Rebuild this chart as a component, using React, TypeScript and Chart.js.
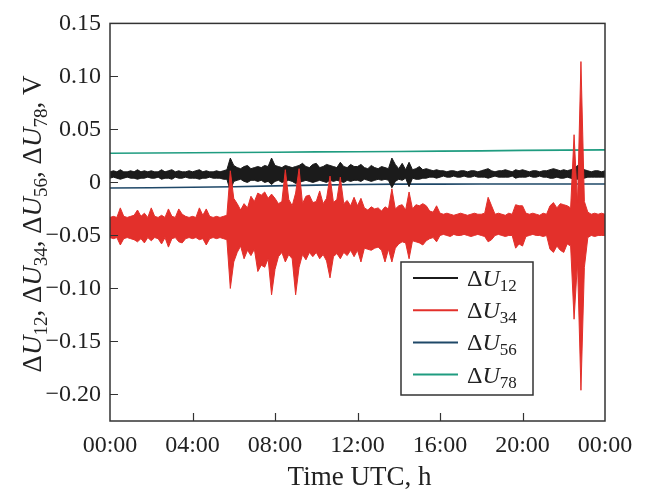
import React, { useEffect, useRef } from "react";
import { Chart, registerables } from "chart.js";

Chart.register(...registerables);

// ---------- data ----------
// envelope samples every 10 minutes, 00:00 .. 24:00 (145 samples)
const SAMPLE_STEP_H = 1 / 6;

const X_TICKS = [0, 4, 8, 12, 16, 20, 24];
const X_TICK_LABELS = ["00:00", "04:00", "08:00", "12:00", "16:00", "20:00", "00:00"];
const Y_TICKS = [0.15, 0.1, 0.05, 0, -0.05, -0.1, -0.15, -0.2];
const Y_TICK_LABELS = ["0.15", "0.10", "0.05", "0", "\u22120.05", "\u22120.10", "\u22120.15", "\u22120.20"];

const SERIES_SUBSCRIPTS = ["12", "34", "56", "78"];
const SERIES_COLORS = ["#1b1b1b", "#e3302b", "#1f4868", "#1f9c80"];

// ΔU12 upper / lower envelope (V)
const DU12_HI = [
  0.010, 0.011, 0.010, 0.012, 0.010, 0.010, 0.011, 0.010, 0.012, 0.010, 0.011, 0.010,
  0.011, 0.010, 0.010, 0.012, 0.010, 0.011, 0.012, 0.010, 0.011, 0.010, 0.010, 0.011,
  0.010, 0.011, 0.012, 0.010, 0.011, 0.010, 0.010, 0.011, 0.010, 0.011, 0.012, 0.023,
  0.016, 0.014, 0.013, 0.015, 0.016, 0.013, 0.014, 0.015, 0.014, 0.016, 0.015, 0.023,
  0.016, 0.015, 0.014, 0.016, 0.015, 0.014, 0.015, 0.016, 0.018, 0.015, 0.014, 0.017,
  0.018, 0.014, 0.015, 0.017, 0.016, 0.015, 0.014, 0.019, 0.015, 0.014, 0.017, 0.015,
  0.015, 0.017, 0.014, 0.013, 0.016, 0.014, 0.013, 0.015, 0.014, 0.013, 0.023, 0.017,
  0.013, 0.018, 0.012, 0.019, 0.012, 0.013, 0.015, 0.012, 0.013, 0.012, 0.011, 0.012,
  0.011, 0.011, 0.010, 0.011, 0.011, 0.010, 0.011, 0.011, 0.010, 0.011, 0.011, 0.010,
  0.011, 0.012, 0.013, 0.011, 0.010, 0.011, 0.011, 0.012, 0.011, 0.010, 0.012, 0.011,
  0.012, 0.011, 0.010, 0.011, 0.011, 0.010, 0.011, 0.011, 0.012, 0.013, 0.012, 0.011,
  0.012, 0.011, 0.012, 0.013, 0.016, 0.016, 0.012, 0.011, 0.010, 0.011, 0.011, 0.010,
  0.011,
];
const DU12_LO = [
  0.004, 0.005, 0.004, 0.003, 0.004, 0.005, 0.004, 0.004, 0.003, 0.004, 0.004, 0.005,
  0.004, 0.004, 0.005, 0.003, 0.004, 0.004, 0.003, 0.005, 0.004, 0.004, 0.005, 0.004,
  0.004, 0.004, 0.003, 0.004, 0.004, 0.005, 0.004, 0.004, 0.004, 0.003, 0.003, -0.008,
  0.001, 0.002, 0.003, 0.001, 0.000, 0.002, 0.002, 0.001, 0.002, 0.000, 0.001, -0.002,
  0.001, 0.002, 0.000, 0.001, 0.002, 0.001, -0.001, 0.000, 0.001, 0.002, 0.001, 0.000,
  0.001, 0.002, 0.001, 0.000, 0.002, 0.001, 0.002, 0.001, 0.000, 0.002, 0.001, 0.002,
  0.002, 0.001, 0.003, 0.002, 0.001, 0.002, 0.003, 0.002, 0.003, 0.002, -0.005, 0.001,
  0.003, 0.002, 0.004, -0.004, 0.004, 0.003, 0.003, 0.004, 0.004, 0.005, 0.005, 0.004,
  0.005, 0.006, 0.005, 0.005, 0.006, 0.005, 0.005, 0.006, 0.005, 0.005, 0.006, 0.005,
  0.005, 0.005, 0.004, 0.005, 0.006, 0.005, 0.005, 0.005, 0.005, 0.006, 0.004, 0.005,
  0.005, 0.005, 0.006, 0.005, 0.005, 0.006, 0.005, 0.005, 0.004, 0.004, 0.005, 0.004,
  0.004, 0.005, 0.004, 0.003, 0.003, 0.003, 0.004, 0.005, 0.005, 0.005, 0.005, 0.005,
  0.005,
];

// ΔU34 upper / lower envelope (V)
const DU34_HI = [
  -0.033, -0.032, -0.033, -0.024, -0.032, -0.033, -0.032, -0.031, -0.026, -0.032, -0.029, -0.033,
  -0.024, -0.032, -0.033, -0.031, -0.033, -0.025, -0.032, -0.033, -0.025, -0.030, -0.032, -0.033,
  -0.032, -0.033, -0.024, -0.031, -0.025, -0.032, -0.033, -0.032, -0.033, -0.032, -0.031, 0.011,
  -0.015, -0.020, -0.026, -0.020, -0.024, -0.013, -0.018, -0.010, -0.012, -0.009, -0.015, -0.011,
  -0.015, -0.020, -0.018, 0.012, -0.016, -0.022, -0.010, 0.013, -0.020, -0.013, -0.012, -0.019,
  -0.018, -0.008, -0.020, -0.015, 0.006, -0.019, -0.016, 0.005, -0.020, -0.017, -0.022, -0.014,
  -0.022, -0.015, -0.024, -0.026, -0.023, -0.025, -0.024, -0.027, -0.023, -0.025, -0.006, -0.025,
  -0.022, -0.021, -0.026, -0.009, -0.025, -0.021, -0.022, -0.020, -0.022, -0.027, -0.028, -0.022,
  -0.029, -0.030, -0.029, -0.030, -0.031, -0.030, -0.029, -0.030, -0.031, -0.030, -0.029, -0.030,
  -0.030, -0.029, -0.014, -0.022, -0.030, -0.029, -0.030, -0.031, -0.029, -0.030, -0.021, -0.022,
  -0.022, -0.029, -0.030, -0.029, -0.030, -0.031, -0.029, -0.030, -0.022, -0.019, -0.024, -0.020,
  -0.021, -0.022, -0.024, 0.045, -0.020, 0.114, -0.018, -0.028, -0.030, -0.029, -0.030, -0.029,
  -0.030,
];
const DU34_LO = [
  -0.052, -0.053, -0.052, -0.059, -0.053, -0.052, -0.053, -0.054, -0.056, -0.053, -0.057, -0.052,
  -0.055, -0.052, -0.053, -0.058, -0.052, -0.061, -0.053, -0.052, -0.056, -0.057, -0.053, -0.052,
  -0.053, -0.052, -0.054, -0.053, -0.059, -0.053, -0.052, -0.053, -0.052, -0.053, -0.054, -0.100,
  -0.075, -0.066, -0.060, -0.072, -0.064, -0.069, -0.063, -0.084, -0.078, -0.080, -0.072, -0.106,
  -0.082, -0.070, -0.066, -0.075, -0.068, -0.072, -0.106, -0.080, -0.068, -0.073, -0.066, -0.070,
  -0.066, -0.072, -0.068, -0.074, -0.090, -0.070, -0.067, -0.072, -0.066, -0.069, -0.064, -0.070,
  -0.064, -0.075, -0.062, -0.063, -0.064, -0.062, -0.061, -0.064, -0.075, -0.063, -0.075, -0.062,
  -0.058, -0.056, -0.057, -0.072, -0.055, -0.056, -0.057, -0.059, -0.055, -0.053, -0.052, -0.056,
  -0.050, -0.049, -0.050, -0.051, -0.049, -0.050, -0.050, -0.049, -0.050, -0.051, -0.050, -0.049,
  -0.050, -0.051, -0.056, -0.054, -0.050, -0.049, -0.050, -0.051, -0.050, -0.050, -0.062, -0.058,
  -0.060, -0.051, -0.050, -0.049, -0.050, -0.050, -0.051, -0.050, -0.063, -0.066, -0.060, -0.064,
  -0.066, -0.058, -0.060, -0.129, -0.075, -0.196, -0.080, -0.052, -0.050, -0.051, -0.050, -0.050,
  -0.050,
];

// ΔU56 and ΔU78, smooth drifts read every 2 hours
const LINE_TIMES = [0, 2, 4, 6, 8, 10, 12, 14, 16, 18, 20, 22, 24];
const DU56 = [-0.0053, -0.005, -0.0045, -0.004, -0.0032, -0.0025, -0.002, -0.0016, -0.0016, -0.0015, -0.0015, -0.0015, -0.0015];
const DU78 = [0.0275, 0.0278, 0.028, 0.0283, 0.0285, 0.0288, 0.029, 0.0292, 0.0295, 0.0298, 0.0302, 0.0305, 0.0307];

// ---------- helpers ----------
const SERIF = "'Liberation Serif', 'Times New Roman', serif";

const toPoints = (vals: number[]) => vals.map((v, k) => ({ x: k * SAMPLE_STEP_H, y: v }));
const toLinePoints = (vals: number[]) => vals.map((v, k) => ({ x: LINE_TIMES[k], y: v }));

type Seg = { t: string; kind: "main" | "ital" | "sub" };

const fontFor = (k: Seg["kind"], main: number, sub: number) =>
  k === "ital" ? `italic ${main}px ${SERIF}` : k === "sub" ? `${sub}px ${SERIF}` : `${main}px ${SERIF}`;

function drawSegs(ctx: CanvasRenderingContext2D, segs: Seg[], x0: number, y0: number, main: number, sub: number, subDrop: number) {
  let x = x0;
  for (const s of segs) {
    ctx.font = fontFor(s.kind, main, sub);
    ctx.fillText(s.t, x, y0 + (s.kind === "sub" ? subDrop : 0));
    x += ctx.measureText(s.t).width;
  }
  return x - x0;
}
function measureSegs(ctx: CanvasRenderingContext2D, segs: Seg[], main: number, sub: number) {
  let w = 0;
  for (const s of segs) {
    ctx.font = fontFor(s.kind, main, sub);
    w += ctx.measureText(s.t).width;
  }
  return w;
}

const decorPlugin = {
  id: "decor",
  afterDraw(chart: any) {
    const ctx: CanvasRenderingContext2D = chart.ctx;
    const { left, right, top, bottom } = chart.chartArea;
    const xs = chart.scales.x;
    const ys = chart.scales.y;
    ctx.save();
    // frame
    ctx.strokeStyle = "#333";
    ctx.lineWidth = 1.5;
    ctx.strokeRect(left, top, right - left, bottom - top);
    // inward ticks
    ctx.lineWidth = 1.2;
    ctx.beginPath();
    for (const t of X_TICKS) {
      if (t === X_TICKS[0] || t === X_TICKS[X_TICKS.length - 1]) continue;
      const px = Math.round(xs.getPixelForValue(t)) + 0.5;
      ctx.moveTo(px, bottom);
      ctx.lineTo(px, bottom - 8);
    }
    for (const v of Y_TICKS) {
      const py = Math.round(ys.getPixelForValue(v)) + 0.5;
      if (Math.abs(py - top) < 2) continue;
      ctx.moveTo(left, py);
      ctx.lineTo(left + 8, py);
    }
    ctx.stroke();

    ctx.fillStyle = "#222";
    ctx.textBaseline = "alphabetic";

    // x title
    ctx.font = `27px ${SERIF}`;
    ctx.textAlign = "center";
    ctx.fillText("Time UTC, h", (left + right) / 2 + 2, 485);
    ctx.textAlign = "left";

    // y title (rotated, with subscripts)
    const ySegs: Seg[] = [];
    SERIES_SUBSCRIPTS.forEach((s) => {
      ySegs.push({ t: "\u0394", kind: "main" }, { t: "U", kind: "ital" }, { t: s, kind: "sub" }, { t: ", ", kind: "main" });
    });
    ySegs.push({ t: "V", kind: "main" });
    const yMain = 27, ySub = 19;
    const total = measureSegs(ctx, ySegs, yMain, ySub);
    ctx.save();
    ctx.translate(41, 224);
    ctx.rotate(-Math.PI / 2);
    drawSegs(ctx, ySegs, -total / 2, 0, yMain, ySub, 6);
    ctx.restore();

    // legend
    const lx = 401, ly = 262, lw = 132, lh = 133;
    ctx.fillStyle = "#fff";
    ctx.fillRect(lx, ly, lw, lh);
    ctx.strokeStyle = "#333";
    ctx.lineWidth = 1.5;
    ctx.strokeRect(lx, ly, lw, lh);
    SERIES_SUBSCRIPTS.forEach((s, i) => {
      const cy = 278 + i * 32.2;
      ctx.strokeStyle = SERIES_COLORS[i];
      ctx.lineWidth = 2;
      ctx.beginPath();
      ctx.moveTo(413, cy);
      ctx.lineTo(458, cy);
      ctx.stroke();
      ctx.fillStyle = "#222";
      drawSegs(ctx, [{ t: "\u0394", kind: "main" }, { t: "U", kind: "ital" }, { t: s, kind: "sub" }], 467, cy + 8, 24, 17, 5);
    });
    ctx.restore();
  },
};

export default function App() {
  const ref = useRef<HTMLCanvasElement | null>(null);
  useEffect(() => {
    document.body.style.margin = "0";
    const canvas = ref.current!;
    const lineBase = { pointRadius: 0, borderWidth: 1, tension: 0 };
    const chart = new Chart(canvas, {
      type: "line",
      data: {
        datasets: [
          { ...lineBase, label: "dU34 hi", data: toPoints(DU34_HI), borderColor: SERIES_COLORS[1], fill: false },
          { ...lineBase, label: "dU34 lo", data: toPoints(DU34_LO), borderColor: SERIES_COLORS[1], backgroundColor: SERIES_COLORS[1], fill: "-1" },
          { ...lineBase, label: "dU12 hi", data: toPoints(DU12_HI), borderColor: SERIES_COLORS[0], fill: false },
          { ...lineBase, label: "dU12 lo", data: toPoints(DU12_LO), borderColor: SERIES_COLORS[0], backgroundColor: SERIES_COLORS[0], fill: "-1" },
          { ...lineBase, borderWidth: 1.6, label: "dU56", data: toLinePoints(DU56), borderColor: SERIES_COLORS[2], fill: false },
          { ...lineBase, borderWidth: 1.6, label: "dU78", data: toLinePoints(DU78), borderColor: SERIES_COLORS[3], fill: false },
        ],
      },
      options: {
        responsive: false,
        animation: false,
        devicePixelRatio: 1,
        layout: { padding: { top: 20, right: 42, left: 0, bottom: 0 } },
        plugins: { legend: { display: false }, tooltip: { enabled: false } },
        scales: {
          x: {
            type: "linear",
            min: 0,
            max: 24,
            grid: { display: false, drawTicks: false },
            border: { display: false },
            afterBuildTicks: (s: any) => {
              s.ticks = X_TICKS.map((v) => ({ value: v }));
            },
            afterFit: (s: any) => {
              s.height = 72;
            },
            ticks: {
              autoSkip: false,
              maxRotation: 0,
              padding: 10,
              color: "#222",
              font: { family: SERIF, size: 24 },
              callback: (v: any) => {
                const i = X_TICKS.findIndex((t) => Math.abs(t - v) < 1e-9);
                return i >= 0 ? X_TICK_LABELS[i] : "";
              },
            },
          },
          y: {
            type: "linear",
            min: -0.225,
            max: 0.15,
            grid: { display: false, drawTicks: false },
            border: { display: false },
            afterBuildTicks: (s: any) => {
              s.ticks = Y_TICKS.map((v) => ({ value: v }));
            },
            afterFit: (s: any) => {
              s.width = 110;
            },
            ticks: {
              padding: 9,
              color: "#222",
              font: { family: SERIF, size: 24 },
              callback: (v: any) => {
                const i = Y_TICKS.findIndex((t) => Math.abs(t - v) < 1e-9);
                return i >= 0 ? Y_TICK_LABELS[i] : "";
              },
            },
          },
        },
      },
      plugins: [decorPlugin],
    } as any);
    return () => chart.destroy();
  }, []);
  return (
    <div style={{ position: "fixed", left: 0, top: 0, width: 647, height: 493, background: "#fff" }}>
      <canvas ref={ref} width={647} height={493} style={{ display: "block" }} />
    </div>
  );
}
